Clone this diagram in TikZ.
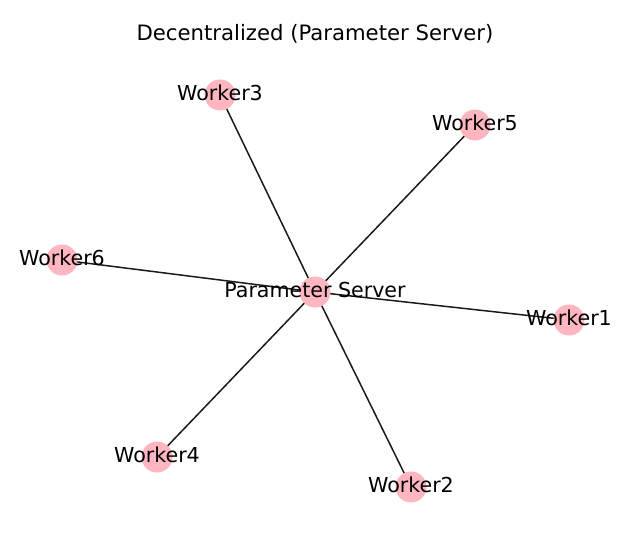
\documentclass[tikz,border=0pt]{standalone}
\usepackage{fontspec}
\setmainfont{DejaVu Sans}
\usepackage{tikz}
\usetikzlibrary{backgrounds}

\definecolor{nodepink}{HTML}{FFB6C1}
\definecolor{edgegray}{HTML}{1A1A1A}

\tikzset{
  worker/.style={circle,fill=nodepink,inner sep=0pt,minimum size=31pt},
  wlabel/.style={inner sep=0pt,font=\fontsize{20.6}{24}\selectfont,text=black},
  link/.style={edgegray,line width=1.5pt}
}

\begin{document}
\begin{tikzpicture}[x=1pt,y=-1pt]
          \useasboundingbox (0,0) rectangle (641,542);
          \node[wlabel,font=\fontsize{21.2}{25}\selectfont] (title) at (315,34) {Decentralized (Parameter Server)};
          % nodes
          \node[worker] (ps) at (315,292) {};
          \node[worker] (w1) at (569,320) {};
          \node[worker] (w2) at (411,487) {};
          \node[worker] (w3) at (220,95) {};
          \node[worker] (w4) at (157,457) {};
          \node[worker] (w5) at (475,125) {};
          \node[worker] (w6) at (62,260) {};
          % labels
          \node[wlabel] (psl) at ([yshift=2pt]ps) {Parameter Server};
          \foreach \n in {1,...,6}
            \node[wlabel] (w\n l) at ([yshift=2pt]w\n) {Worker\n};
          % edges
          \begin{pgfonlayer}{background}
            \foreach \n in {1,...,6}
              \draw[link] (ps.center) -- (w\n.center);
          \end{pgfonlayer}
        \end{tikzpicture}
\end{document}
